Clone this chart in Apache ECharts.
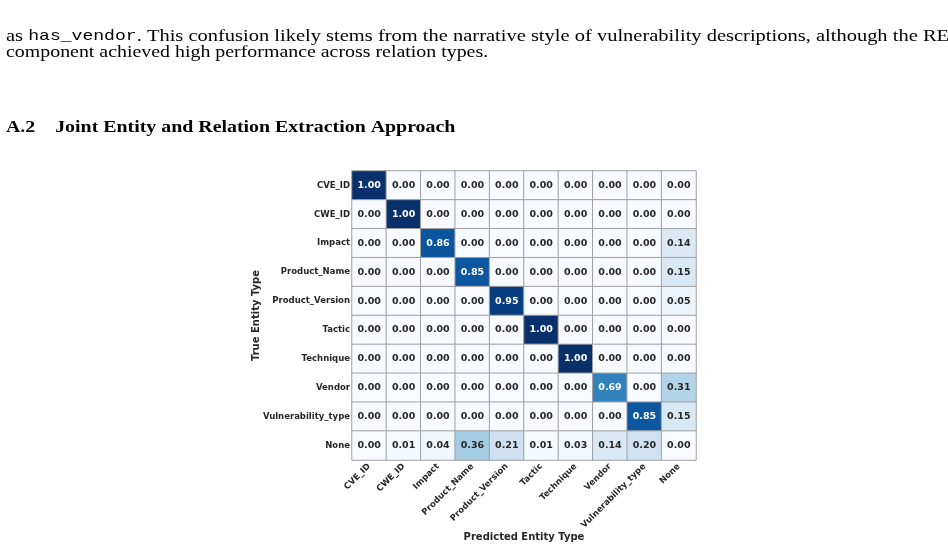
<!DOCTYPE html>
<html><head><meta charset="utf-8">
<script src="https://cdn.jsdelivr.net/npm/echarts@6/dist/echarts.min.js"></script>
<style>html,body{margin:0;padding:0;background:#fff}#c{width:948px;height:548px}</style>
</head><body><div id="c"></div>
<script>
const labels = ['CVE_ID','CWE_ID','Impact','Product_Name','Product_Version','Tactic','Technique','Vendor','Vulnerability_type','None'];
const matrix = [
  [1.00,0.00,0.00,0.00,0.00,0.00,0.00,0.00,0.00,0.00],
  [0.00,1.00,0.00,0.00,0.00,0.00,0.00,0.00,0.00,0.00],
  [0.00,0.00,0.86,0.00,0.00,0.00,0.00,0.00,0.00,0.14],
  [0.00,0.00,0.00,0.85,0.00,0.00,0.00,0.00,0.00,0.15],
  [0.00,0.00,0.00,0.00,0.95,0.00,0.00,0.00,0.00,0.05],
  [0.00,0.00,0.00,0.00,0.00,1.00,0.00,0.00,0.00,0.00],
  [0.00,0.00,0.00,0.00,0.00,0.00,1.00,0.00,0.00,0.00],
  [0.00,0.00,0.00,0.00,0.00,0.00,0.00,0.69,0.00,0.31],
  [0.00,0.00,0.00,0.00,0.00,0.00,0.00,0.00,0.85,0.15],
  [0.00,0.01,0.04,0.36,0.21,0.01,0.03,0.14,0.20,0.00]
];
const xTitle = 'Predicted Entity Type';
const yTitle = 'True Entity Type';
const paraLine1a = 'as ';
const paraLine1code = 'has_vendor';
const paraLine1b = '. This confusion likely stems from the narrative style of vulnerability descriptions, although the RE';
const paraLine2 = 'component achieved high performance across relation types.';
const heading = 'A.2    Joint Entity and Relation Extraction Approach';

const data = [];
matrix.forEach((row, r) => row.forEach((v, c) => {
  data.push({value: [c, r, v], label: {color: v > 0.5 ? '#ffffff' : '#262626'}});
}));

const serif = '"Liberation Serif", "Times New Roman", serif';
const chart = echarts.init(document.getElementById('c'), null, {renderer: 'canvas'});
chart.setOption({
  backgroundColor: '#ffffff',
  animation: false,
  grid: {left: 352, top: 171, width: 344, height: 289, containLabel: false, outerBoundsMode: 'none'},
  xAxis: {
    type: 'category', data: labels, position: 'bottom',
    name: xTitle, nameLocation: 'middle', nameGap: 72, nameMoveOverlap: false,
    nameTextStyle: {fontFamily: 'DejaVu Sans', fontWeight: 'bold', fontSize: 10, color: '#262626'},
    axisLine: {show: false}, axisTick: {show: false}, splitLine: {show: false},
    axisLabel: {rotate: 45, interval: 0, margin: 5, fontFamily: 'DejaVu Sans', fontWeight: 'bold', fontSize: 8.5, color: '#262626'}
  },
  yAxis: {
    type: 'category', data: labels, inverse: true,
    name: yTitle, nameLocation: 'middle', nameGap: 91, nameRotate: 90, nameMoveOverlap: false,
    nameTextStyle: {fontFamily: 'DejaVu Sans', fontWeight: 'bold', fontSize: 10, color: '#262626'},
    axisLine: {show: false}, axisTick: {show: false}, splitLine: {show: false},
    axisLabel: {interval: 0, margin: 2, fontFamily: 'DejaVu Sans', fontWeight: 'bold', fontSize: 8.5, color: '#262626'}
  },
  visualMap: {
    show: false, min: 0, max: 1, dimension: 2,
    inRange: {color: ['#f7fbff','#deebf7','#c6dbef','#9ecae1','#6baed6','#4292c6','#2171b5','#08519c','#08306b']}
  },
  series: [{
    type: 'heatmap', data: data,
    itemStyle: {borderColor: '#a0a0a0', borderWidth: 1},
    label: {show: true, formatter: p => p.value[2].toFixed(2), fontFamily: 'DejaVu Sans', fontWeight: 'bold', fontSize: 9.5}
  }],
  graphic: [
    {type: 'text', x: 6, y: 28, scaleX: 1.205, style: {
      text: '{s|' + paraLine1a + '}{m|' + paraLine1code + '}{s|' + paraLine1b + '}',
      fill: '#000',
      rich: {s: {font: '17px ' + serif, fill: '#000'}, m: {font: '15px "Liberation Mono", "DejaVu Sans Mono", monospace', fill: '#000'}}
    }},
    {type: 'text', x: 6, y: 44, scaleX: 1.17, style: {text: paraLine2, font: '17px ' + serif, fill: '#000'}},
    {type: 'text', x: 6, y: 119, scaleX: 1.17, style: {text: heading, font: 'bold 17px ' + serif, fill: '#000'}}
  ]
});
</script></body></html>
